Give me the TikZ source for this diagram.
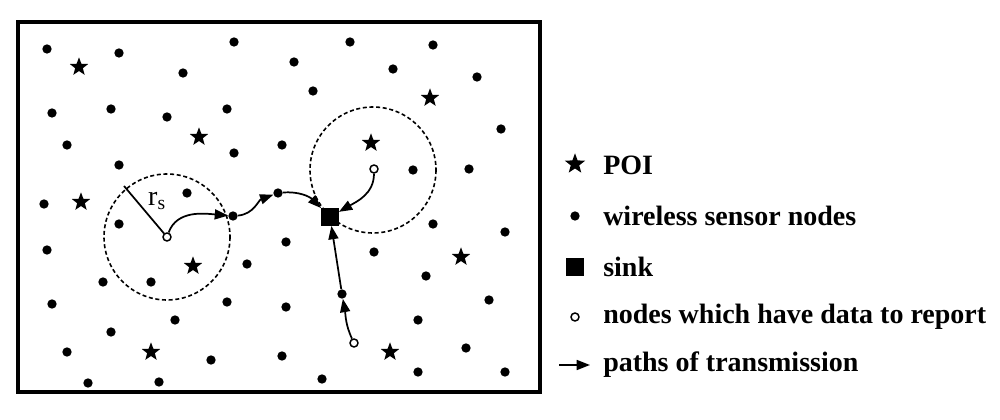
\documentclass[tikz,border=0pt]{standalone}
\usepackage{fontspec}
\setmainfont{Liberation Serif}
\usetikzlibrary{shapes.geometric,arrows.meta}
\begin{document}
\begin{tikzpicture}[x=0.75pt,y=-0.75pt,
  dot/.style={circle,fill=black,inner sep=0pt,minimum size=7pt},
  odot/.style={circle,draw=black,fill=white,line width=1.1pt,inner sep=0pt,minimum size=6pt},
  poi/.style={star,star points=5,star point ratio=2.4,fill=black,inner sep=0pt,minimum size=14.5pt},
  sinkbox/.style={rectangle,fill=black,inner sep=0pt,minimum size=13pt},
  pth/.style={line width=1.3pt,-{Triangle[length=10pt,width=7.5pt]}},
  lbl/.style={anchor=west,font=\bfseries\fontsize{21}{24}\selectfont,inner sep=0pt}]
\useasboundingbox (0,0) rectangle (1000,420);
\draw[line width=2.5pt] (18,22) rectangle (540,392);
% dots
\foreach \p [count=\i] in {(47,49),(119,53),(234,42),(183,73),(52,113),(111,109),(167,117),(227,109),(67,145),(234,153),(119,165),(187,193),(44,204),(119,224),(47,250),(247,264),(103,282),(151,282),(227,302),(52,304),(175,320),(111,332),(67,352),(211,360),(88,383),(159,382),
(350,42),(294,62),(433,45),(393,69),(477,77),(313,91),(282,145),(501,129),(413,170),(469,169),(433,224),(505,232),(286,242),(374,252),(426,276),(489,300),(286,307),(418,320),(282,356),(466,348),(418,372),(505,372),(322,379)}
  \node[dot] (d\i) at \p {};
\foreach \p [count=\i] in {(79,67),(199,137),(81,202),(193,266),(151,352),(430,98),(371,143),(461,257),(390,352)}
  \node[poi] (s\i) at \p {};
% circles
\draw[line width=1.2pt,dash pattern=on 3pt off 2pt] (167,237) circle[radius=63];
\draw[line width=1.2pt,dash pattern=on 3pt off 2pt] (373,170) circle[radius=63];
\coordinate (rs) at (124,186);
% path nodes
\node[dot] (n1) at (233,216) {};
\node[dot] (n2) at (278,193) {};
\node[dot] (n3) at (342,294) {};
\node[sinkbox] (sink) at (330,217) {};
\node[odot] (o1) at (167,237) {};
\node[odot] (o2) at (374,169) {};
\node[odot] (o3) at (354,343) {};
\draw[line width=1.3pt] (o1) -- (rs);
\node[font=\fontsize{21}{24}\selectfont] (rl) at (157,201) {r\textsubscript{s}};
\draw[pth] (o1) to[out=70,in=175] (n1);
\draw[pth] (n1) to[out=5,in=200] (n2);
\draw[pth] (n2) to[out=5,in=135] (sink);
\draw[pth] (o2) to[out=-90,in=30] (sink);
\draw[pth] (o3) to[out=115,in=-80] (n3);
\draw[pth] (n3) -- (sink);
% legend
\node[poi,minimum size=16pt] (lp) at (575,164) {};
\node[lbl] (t1) at (603,165) {POI};
\node[dot] (ld) at (575,216) {};
\node[lbl] (t2) at (603,216) {wireless sensor nodes};
\node[sinkbox] (ls) at (575,267) {};
\node[lbl] (t3) at (603,267) {sink};
\node[odot] (lo) at (575,317) {};
\node[lbl] (t4) at (603,317) {nodes which have data to report};
\coordinate (la) at (559,365);
\coordinate (lb) at (590,365);
\draw[pth] (la) -- (lb);
\node[lbl] (t5) at (603,365) {paths of transmission};
\end{tikzpicture}
\end{document}
